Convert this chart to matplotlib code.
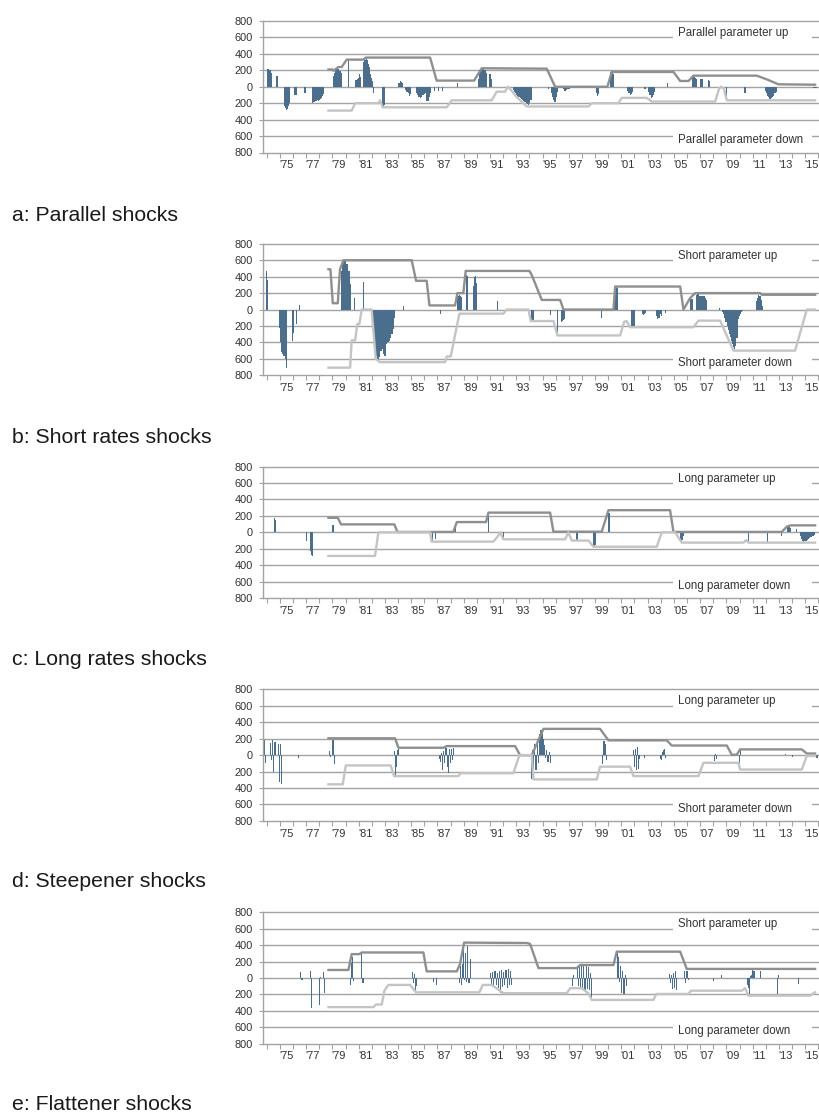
import matplotlib
matplotlib.use("Agg")
import matplotlib.pyplot as plt
from matplotlib.patches import Rectangle

plt.rcParams['font.family'] = ['Liberation Sans', 'DejaVu Sans']

# ---- data (years on x, basis points on y) ----
# bars: (first month, [monthly values])
# lines: (year, level) vertices

# a: parallel
a_up = [(1978.70, 210), (1979.0, 210), (1979.08, 195), (1979.25, 215), (1979.46, 240),
        (1979.71, 240), (1980.09, 330), (1981.36, 330), (1981.54, 355), (1986.44, 355),
        (1986.94, 75), (1989.79, 75), (1990.37, 225), (1995.32, 220), (1995.96, 0),
        (1999.94, 0), (2000.27, 180), (2004.97, 180), (2005.48, 70), (2006.11, 70),
        (2006.49, 135), (2011.31, 135), (2012.07, 90), (2012.96, 30), (2015.75, 25)]
a_down = [(1978.70, -290), (1980.47, -290), (1980.73, -200), (1982.50, -200), (1982.63, -165),
          (1982.83, -250), (1987.71, -250), (1988.09, -165), (1991.13, -165), (1991.51, -60),
          (1992.15, -60), (1992.35, 0), (1992.6, -40), (1993.0, -120), (1993.80, -240),
          (1998.50, -240), (1998.75, -200), (2000.78, -200), (2001.03, -135), (2002.94, -135),
          (2003.32, -180), (2008.14, -180), (2008.45, -20), (2008.6, 0), (2008.8, -20),
          (2009.03, -165), (2015.75, -165)]
a_bars = [(1974.08, [215, 210, 200, 165]), (1974.72, [130, 125]),
          (1975.32, [-230, -260, -285, -270, -240, -200]), (1976.15, [-100, -100]),
          (1976.85, [-75, -80]),
          (1977.52, [-200, -190, -170, -170, -165, -170, -165, -150, -140, -110, -90]),
          (1979.08, [130, 170, 200, 210, 215, 210, 190, 170]), (1980.22, [320]),
          (1980.73, [80, 85, 95, 110, 160, 120]),
          (1981.40, [300, 330, 350, 320, 280, 240, 160, 110, 70]), (1982.15, [-70]),
          (1982.82, [-230, -240, -220]), (1984.03, [40, 50, 70, 55, 40]),
          (1984.60, [-40, -60, -80, -110, -90]),
          (1985.40, [-80, -100, -120, -130, -135, -120, -100, -90, -80, -170, -170, -175, -120, -80]),
          (1986.75, [-50]), (1987.05, [-50]), (1987.35, [-50]), (1988.50, [40]),
          (1990.12, [100, 180, 210, 210, 215, 210, 200, 170]), (1990.95, [160, 150, 100]),
          (1992.79, [-40, -60, -80, -100, -115, -130, -140, -150, -160, -170, -180, -190,
                     -200, -210, -220, -200, -160]),
          (1995.45, [-30]), (1995.70, [-80, -120, -160, -180, -120, -60]),
          (1996.60, [-30, -50, -50, -40, -30, -30]), (1999.10, [-80, -110, -90]),
          (2000.15, [180, 190, 180, 150]), (2001.50, [-50, -80, -100, -90, -60]),
          (2002.80, [-30]), (2003.10, [-60, -100, -140, -130, -100, -60]), (2004.50, [40]),
          (2006.40, [115, 120, 115, 110, 100]), (2007.00, [100, 100, 90]),
          (2007.65, [80, 75]), (2009.00, [-160]), (2010.40, [-80, -80]),
          (2011.95, [-50, -80, -110, -130, -145, -150, -140, -130, -110, -80, -60]),
          (2015.60, [-20, -20, -20, -15])]

# b: short rates
b_up = [(1978.70, 490), (1978.85, 490), (1979.03, 77), (1979.41, 77), (1979.58, 490),
        (1979.84, 600), (1985.04, 600), (1985.37, 350), (1986.18, 350), (1986.39, 50),
        (1988.34, 50), (1988.52, 200), (1988.97, 200), (1989.15, 470), (1994.0, 470),
        (1994.18, 420), (1994.94, 117), (1996.34, 117), (1996.59, 0), (2000.40, 0),
        (2000.53, 280), (2005.48, 280), (2005.73, 0), (2006.24, 140), (2006.62, 200),
        (2011.57, 200), (2011.69, 180), (2015.75, 180)]
b_down = [(1978.70, -707), (1980.35, -707), (1980.47, -375), (1980.73, -375), (1980.90, -175),
          (1981.06, -175), (1981.23, 0), (1981.99, 0), (1982.30, -600), (1982.63, -640),
          (1987.58, -640), (1987.71, -570), (1988.01, -570), (1988.67, -50), (1992.02, -50),
          (1992.27, 0), (1993.93, 0), (1994.10, -140), (1995.83, -140), (1996.14, -315),
          (2000.91, -315), (2001.21, -150), (2001.4, -140), (2001.67, -215), (2006.49, -215),
          (2006.87, -135), (2008.52, -135), (2009.54, -500), (2014.23, -500), (2015.12, 0),
          (2015.75, 0)]
b_bars = [(1973.95, [470, 360]), (1974.98, [-220, -400, -520, -540, -560, -600, -710]),
          (1975.93, [-380, -280]), (1976.30, [-180]), (1976.50, [60]),
          (1979.71, [470, 560, 580, 600, 560, 550, 470, 470, 310]), (1980.70, [140]),
          (1981.35, [340]),
          (1982.12, [-200, -420, -520, -560, -600, -620, -580, -500, -480, -540, -570, -560,
                     -420, -400, -390, -380, -350, -300, -240, -100]),
          (1984.40, [40]), (1987.25, [-50]), (1988.52, [170, 170, 175, 160, 150]),
          (1989.20, [420, 410]), (1989.74, [290, 400, 410, 320]), (1991.60, [110]),
          (1994.20, [-140, -140]), (1995.60, [-70]), (1996.14, [-280]),
          (1996.42, [-150, -140, -130, -120]), (1999.50, [-100]),
          (2000.48, [280, 280, 270, 260]), (2001.80, [-200, -210, -200]),
          (2002.60, [-50, -70, -60, -40]), (2003.70, [-80, -110, -100, -60, -80]),
          (2004.35, [-40]), (2006.30, [130, 130]),
          (2006.74, [180, 200, 190, 170, 170, 170, 165, 160, 140, 120]), (2008.50, [20]),
          (2008.72, [-30, -60, -100, -150, -200, -250, -300, -340, -380, -420, -460, -480,
                     -440, -350, -120, -80, -50, -30, -20]),
          (2011.31, [110, 140, 180, 160, 120, 40])]

# c: long rates
c_up = [(1978.70, 177), (1979.41, 177), (1979.66, 97), (1983.72, 97), (1983.95, 5),
        (1988.21, 5), (1988.47, 125), (1990.70, 125), (1990.88, 240), (1995.58, 240),
        (1995.83, 8), (1999.51, 8), (2000.02, 270), (2004.71, 270), (2004.97, 5),
        (2013.22, 5), (2013.60, 70), (2013.9, 85), (2015.75, 85)]
c_down = [(1978.70, -287), (1982.25, -287), (1982.50, 0), (1986.44, 0), (1986.56, -113),
          (1991.26, -113), (1991.59, -50), (1991.77, 0), (1992.02, -85), (1996.72, -85),
          (1996.97, 0), (1997.23, -100), (1998.50, -100), (1998.88, -175), (2003.70, -175),
          (2004.08, 0), (2005.10, 0), (2005.60, -125), (2010.30, -125), (2010.50, -95),
          (2010.68, -125), (2015.75, -125)]
c_bars = [(1974.56, [170, 150]), (1977.00, [-100]), (1977.35, [-230, -280, -290]),
          (1979.00, [90, 85]), (1986.60, [-110]), (1986.82, [-80]), (1988.35, [100]),
          (1990.90, [230]), (1992.00, [-80]), (1997.05, [-50]), (1997.60, [-100, -100]),
          (1998.88, [-160, -160, -150]), (2000.00, [240, 230]),
          (2005.48, [-80, -110, -90, -40]), (2010.70, [-110]), (2012.10, [-130]),
          (2013.20, [-40]), (2013.65, [60, 70, 60, 50]), (2014.35, [40]),
          (2014.61, [-40, -80, -100, -120, -110, -110, -100, -90, -80, -70, -60, -50, -40, -30])]

# d: steepener
d_up = [(1978.70, 205), (1983.77, 205), (1984.03, 90), (1987.45, 90), (1987.71, 110),
        (1992.91, 110), (1993.29, 0), (1994.18, 0), (1995.07, 320), (1999.38, 320),
        (2000.02, 180), (2004.46, 180), (2004.84, 117), (2009.03, 117), (2009.41, 5),
        (2009.79, 5), (2010.04, 70), (2014.74, 70), (2015.12, 20), (2015.75, 20)]
d_down = [(1978.70, -355), (1979.79, -355), (1980.02, -125), (1983.44, -125), (1983.70, -255),
          (1988.59, -255), (1988.77, -220), (1992.78, -220), (1993.24, 0), (1994.18, 0),
          (1994.31, -295), (1999.13, -295), (1999.38, -140), (2001.67, -140), (2001.92, -255),
          (2006.87, -255), (2007.25, -93), (2009.92, -93), (2010.04, -175), (2014.74, -175),
          (2015.12, -10), (2015.75, -10)]
d_bars = [(1973.67, [270, -90, 190, -100]), (1974.30, [150, -60, 190, -210, 160]),
          (1974.89, [140, -330, 130, -355]), (1976.45, [-40]), (1978.80, [50, -20]),
          (1979.05, [190, -110]), (1983.70, [50, -240, -150, 60, 70]),
          (1987.15, [-50, -80, 30, -180, 50, -100, 90, -150, -220, 80, -100, 80, -60, 90]),
          (1994.17, [-290, 60, -250, 130, -180, 200, -100, 260, 300, 310, 280, 200, 120,
                     -40, 60, -80, 40, -90]),
          (1999.60, [-110, 170, 130, -60]), (2001.90, [60, -140, 80, -180, 100, -170, -50]),
          (2002.75, [-30]), (2003.95, [-50, -60, 40, 60, 80, -40]), (2008.10, [-70, 20, -50]),
          (2010.00, [-180, 70]), (2013.50, [20]), (2014.05, [-20]), (2015.90, [-40])]

# e: flattener
e_up = [(1978.70, 97), (1980.22, 97), (1980.47, 290), (1981.06, 290), (1981.23, 310),
        (1985.93, 310), (1986.18, 80), (1988.47, 80), (1988.72, 170), (1989.03, 430),
        (1993.80, 425), (1994.05, 415), (1994.69, 120), (1997.61, 120), (1997.86, 157),
        (2000.40, 157), (2000.65, 320), (2005.48, 320), (2005.98, 110), (2015.75, 110)]
e_down = [(1978.70, -355), (1982.12, -355), (1982.32, -323), (1982.76, -323), (1982.96, -155),
          (1983.26, -85), (1984.91, -85), (1985.37, -175), (1990.19, -175), (1990.45, -85),
          (1991.13, -85), (1992.02, -185), (1996.85, -185), (1997.10, -125), (1997.99, -125),
          (1998.50, -190), (1998.75, -267), (2003.45, -267), (2003.65, -195), (2006.11, -195),
          (2006.29, -155), (2010.17, -155), (2010.42, -125), (2010.68, -215), (2015.37, -215),
          (2015.75, -175)]
e_bars = [(1976.60, [70, -20]), (1977.30, [90, -360]), (1978.00, [-330, 10]),
          (1978.30, [70, -180]), (1980.35, [-90, 180, 250, -40]), (1981.25, [300, -60]),
          (1985.10, [70, -60, 50, -150, -100]), (1986.70, [-50]), (1986.95, [-80]),
          (1988.65, [-60, 150, -80, 170, 400, -30, 300, -50, 390, -60, 230]),
          (1991.05, [60, -80, 70, -100, 80, -90, 60, -120, 90, -180, 100, -110, 70, -90,
                     100, -120, 110, -80, 80, -90]),
          (1997.25, [-100, 30]),
          (1997.65, [140, -100, 140, -120, 150, -130, 140, -150, 140, -140, 130, -150, 60, -270]),
          (2000.70, [300, 250, -50, 150, -180, 80, -200, 30, -100]),
          (2004.65, [50, -60, 40, -140, 60, -120, 80, -150]),
          (2005.80, [90, -60, 90, 80, -30]), (2008.00, [-40]), (2008.65, [40]),
          (2010.60, [-80, -120, -200, 20, 40, 100, 90]), (2011.60, [90]),
          (2012.90, [-200, 30]), (2014.50, [-70])]

panels = [
    ("a: Parallel shocks", "Parallel parameter up", "Parallel parameter down", a_up, a_down, a_bars),
    ("b: Short rates shocks", "Short parameter up", "Short parameter down", b_up, b_down, b_bars),
    ("c: Long rates shocks", "Long parameter up", "Long parameter down", c_up, c_down, c_bars),
    ("d: Steepener shocks", "Long parameter up", "Short parameter down", d_up, d_down, d_bars),
    ("e: Flattener shocks", "Short parameter up", "Long parameter down", e_up, e_down, e_bars),
]

years = list(range(1974, 2017))
label_years = list(range(1975, 2016, 2))
yticks = list(range(-800, 801, 200))

W, H = 819, 1115
bar_col = "#4a6e8b"
up_col = "#8f8f8f"
down_col = "#c4c4c4"
grid_col = "#a3a3a3"
txt_col = "#333333"

fig = plt.figure(figsize=(W / 100, H / 100), dpi=100)

for i, (title, up_lab, dn_lab, up, down, bars) in enumerate(panels):
    top = 21 + 222.8 * i
    hgt = 131.5
    left = 263.3
    ax = fig.add_axes([left / W, 1 - (top + hgt) / H, (W - left) / W, hgt / H])
    ax.set_xlim(1973.74, 2016.05)
    ax.set_ylim(-800, 800)

    for g in yticks[1:]:
        ax.axhline(g, color=grid_col, lw=1.0, zorder=0.5, clip_on=False)

    bx, bv = [], []
    for start, vals in bars:
        for k, v in enumerate(vals):
            bx.append(start + k / 12)
            bv.append(v)
    ax.bar(bx, bv, width=1 / 12, color=bar_col, linewidth=0, zorder=2)

    ax.plot([p[0] for p in up], [p[1] for p in up], color=up_col, lw=1.7, zorder=3,
            solid_joinstyle='round')
    ax.plot([p[0] for p in down], [p[1] for p in down], color=down_col, lw=1.7, zorder=3,
            solid_joinstyle='round')

    # white boxes behind parameter labels
    for yy in (600, -600):
        ax.add_patch(Rectangle((2004.94, yy - 25), 10.6, 50, facecolor='white',
                               edgecolor='none', zorder=1))
    ax.text(2005.33, 655, up_lab, fontsize=8.3, color=txt_col, va='center', ha='left', zorder=4)
    ax.text(2005.33, -650, dn_lab, fontsize=8.3, color=txt_col, va='center', ha='left', zorder=4)

    for s in ('top', 'right'):
        ax.spines[s].set_visible(False)
    for s in ('left', 'bottom'):
        ax.spines[s].set_color(grid_col)
        ax.spines[s].set_linewidth(1.0)

    ax.set_yticks(yticks)
    ax.set_yticklabels([str(abs(t)) for t in yticks])
    ax.tick_params(axis='y', length=3, width=0.8, color=grid_col, pad=4.5,
                   labelsize=7.9, labelcolor=txt_col)

    ax.set_xticks([y + 0.5 for y in label_years])
    ax.set_xticklabels(["'" + str(y)[2:] for y in label_years])
    ax.set_xticks(years, minor=True)
    ax.tick_params(axis='x', which='major', length=0, pad=5.5, labelsize=7.9,
                   labelcolor=txt_col)
    ax.tick_params(axis='x', which='minor', length=3.5, width=0.8, color=grid_col)

    base = 220.5 + 222.3 * i
    fig.text(12 / W, 1 - base / H, title, fontsize=15.3, color='#1a1a1a',
             ha='left', va='baseline')

fig.savefig("out.png", dpi=100)
